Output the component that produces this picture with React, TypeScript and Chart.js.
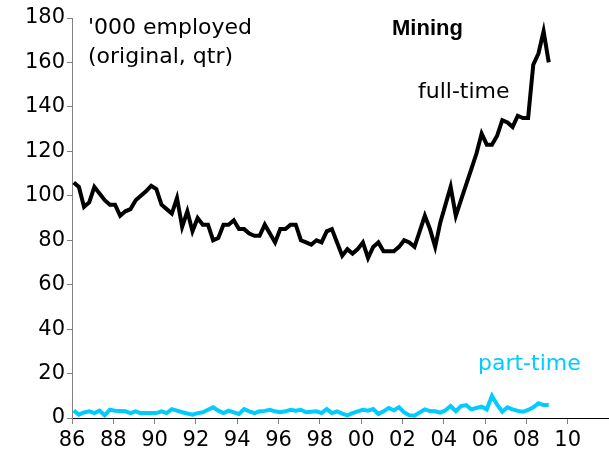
import React, { useEffect, useRef } from "react";
import { Chart, registerables } from "chart.js";

Chart.register(...registerables);

// Quarterly series, starting 1986 Q1 ('000 employed, original); plotted at mid-quarter month
const START_YEAR = 1986;
const MONTH_OFFSET = 1 / 12;

const fullTime = [
  106, 104, 95, 97, 104, 101, 98, 96, 96, 91, 93, 94, 98, 100, 102, 104.5,
  103, 96, 94, 92, 99, 86, 93, 84, 90, 87, 87, 80, 81, 87, 87, 89,
  85, 85, 83, 82, 82, 87, 83, 79, 85, 85, 87, 87, 80, 79, 78, 80,
  79, 84, 85, 79, 73, 76, 74, 76, 79, 72, 77, 79, 75, 75, 75, 77,
  80, 79, 77, 84, 91, 85, 77, 88, 96, 104, 91, 98, 105, 112, 119, 128,
  123, 123, 127, 134, 133, 131, 136, 135, 135, 159, 164, 174, 160,
];

const partTime = [
  3.3, 1.5, 2.5, 3, 2.2, 3.3, 1.2, 3.7, 3.3, 3.2, 3, 2.2, 3, 2.2, 2.3, 2.2,
  2.2, 3, 2.2, 4, 3.3, 2.6, 2, 1.5, 2.2, 2.6, 3.7, 4.8, 3.3, 2.2, 3.3, 2.5,
  1.8, 4, 3, 2.2, 3, 3.2, 3.7, 3, 2.6, 3, 3.7, 3.3, 3.7, 2.6, 2.8, 3,
  2.2, 4, 2.2, 3, 2, 1.2, 2.2, 3, 3.7, 3.3, 4, 1.8, 3, 4.5, 3.5, 4.8,
  2.5, 1.2, 1, 2.5, 3.9, 3.1, 3, 2.4, 3.5, 5.4, 3.1, 5.4, 5.8, 3.9, 4.5, 5.1,
  3.9, 10, 6, 2.8, 4.8, 3.9, 3.2, 2.8, 3.6, 4.8, 6.6, 5.8, 5.8,
];

const xTickYears = [1986, 1988, 1990, 1992, 1994, 1996, 1998, 2000, 2002, 2004, 2006, 2008, 2010];
const xTickLabels = ["86", "88", "90", "92", "94", "96", "98", "00", "02", "04", "06", "08", "10"];
const yTicks = [0, 20, 40, 60, 80, 100, 120, 140, 160, 180];

const FONT = "'DejaVu Sans', Verdana, sans-serif";
const TITLE_FONT = "'Liberation Sans', Arial, sans-serif";
const CYAN = "#00CCFF";

const toPoints = (vals: number[]) =>
  vals.map((v, i) => ({ x: START_YEAR + MONTH_OFFSET + i / 4, y: v }));

const annotations = {
  id: "annotations",
  afterDraw(chart: any) {
    const ctx = chart.ctx;
    ctx.save();
    ctx.textBaseline = "middle";
    ctx.textAlign = "left";
    ctx.fillStyle = "#000";
    ctx.font = `22px ${FONT}`;
    ctx.fillText("'000 employed", 88, 28);
    ctx.fillText("(original, qtr)", 88, 57);
    ctx.fillText("full-time", 418, 92);
    ctx.font = `bold 22px ${TITLE_FONT}`;
    ctx.fillText("Mining", 392, 29);
    ctx.font = `22px ${FONT}`;
    ctx.fillStyle = CYAN;
    ctx.fillText("part-time", 478, 364);
    ctx.restore();
  },
};

export default function App() {
  const ref = useRef<HTMLCanvasElement | null>(null);
  useEffect(() => {
    if (!ref.current) return;
    const chart = new Chart(ref.current, {
      type: "line",
      data: {
        datasets: [
          {
            label: "full-time",
            data: toPoints(fullTime),
            borderColor: "#000000",
            borderWidth: 4,
            pointRadius: 0,
            tension: 0,
          },
          {
            label: "part-time",
            data: toPoints(partTime),
            borderColor: CYAN,
            borderWidth: 4,
            pointRadius: 0,
            tension: 0,
          },
        ],
      },
      options: {
        animation: false,
        responsive: false,
        devicePixelRatio: 1,
        layout: { padding: { top: 18, right: 0, bottom: 0, left: 0 } },
        plugins: { legend: { display: false }, tooltip: { enabled: false } },
        scales: {
          x: {
            type: "linear",
            min: 1986,
            max: 2012,
            afterBuildTicks: (scale: any) => {
              scale.ticks = xTickYears.map((v) => ({ value: v }));
            },
            afterFit: (scale: any) => {
              scale.height = 41;
            },
            ticks: {
              autoSkip: false,
              maxRotation: 0,
              padding: 4,
              color: "#000",
              font: { family: FONT, size: 21 },
              callback: (v: any) => {
                const i = xTickYears.indexOf(Number(v));
                return i >= 0 ? xTickLabels[i] : "";
              },
            },
            grid: {
              display: true,
              drawOnChartArea: false,
              drawTicks: true,
              tickLength: 6,
              tickColor: "#808080",
            },
            border: { display: true, color: "#000", width: 1 },
          },
          y: {
            type: "linear",
            min: 0,
            max: 180,
            afterBuildTicks: (scale: any) => {
              scale.ticks = yTicks.map((v) => ({ value: v }));
            },
            afterFit: (scale: any) => {
              scale.width = 72;
            },
            ticks: {
              autoSkip: false,
              padding: 2,
              color: "#000",
              font: { family: FONT, size: 21 },
            },
            grid: {
              display: true,
              drawOnChartArea: false,
              drawTicks: true,
              tickLength: 5,
              tickColor: "#808080",
            },
            border: { display: true, color: "#808080", width: 1 },
          },
        },
      },
      plugins: [annotations],
    });
    return () => chart.destroy();
  }, []);
  return (
    <div style={{ position: "absolute", left: 0, top: 0, width: 609, height: 459, background: "#fff" }}>
      <canvas ref={ref} width={609} height={459} style={{ display: "block" }} />
    </div>
  );
}
